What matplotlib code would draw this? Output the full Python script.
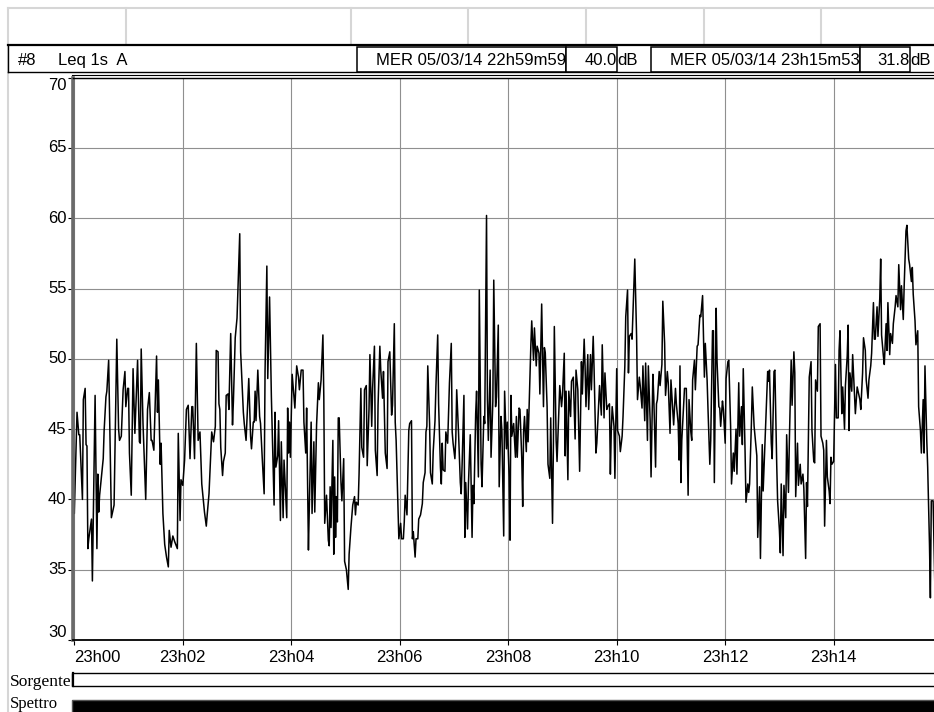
import matplotlib
matplotlib.use("Agg")
import matplotlib.pyplot as plt
from matplotlib.patches import Rectangle
from matplotlib.lines import Line2D

plt.rcParams['font.family'] = ['Liberation Sans', 'DejaVu Sans']

# seconds since 22h59m59 and Leq 1s (dB A)
secs = [
    0, 1, 4, 6, 7, 10, 11, 13, 14, 15, 16, 17, 20, 21, 24, 26, 27, 28, 29, 32,
    33, 34, 36, 37, 39, 42, 45, 48, 50, 51, 53, 55, 57, 58, 60, 61, 62, 64, 66, 68,
    69, 71, 73, 74, 75, 77, 80, 82, 84, 86, 87, 89, 92, 93, 94, 96, 97, 99, 101, 103,
    105, 106, 108, 110, 112, 115, 116, 118, 119, 121, 123, 124, 125, 127, 129, 131, 132, 134, 136,
    138, 140, 142, 145, 147, 148, 150, 153, 155, 157, 158, 160, 161, 162, 163, 165, 166, 168, 169, 171,
    172, 174, 176, 177, 179, 181, 184, 185, 188, 189, 191, 194, 196, 197, 199, 200, 201, 202, 204, 206,
    207, 209, 211, 212, 214, 215, 217, 219, 222, 223, 224, 226, 227, 229, 230, 232, 233, 236, 237, 238,
    239, 240, 242, 245, 247, 249, 250, 252, 254, 255, 257, 258, 260, 261, 263, 264, 266, 267, 269, 271,
    272, 274, 276, 277, 278, 280, 282, 283, 284, 285, 287, 288, 289, 290, 291, 292, 293, 294, 296, 297,
    299, 300, 302, 304, 305, 307, 309, 311, 312, 313, 315, 316, 318, 319, 321, 322, 324, 325, 327, 328,
    330, 331, 333, 334, 336, 337, 339, 340, 342, 343, 345, 347, 348, 350, 352, 353, 355, 356, 357, 359,
    360, 362, 363, 365, 366, 367, 369, 371, 372, 374, 375, 376, 378, 379, 381, 382, 384, 386, 387, 389,
    390, 391, 392, 394, 395, 397, 398, 400, 401, 403, 404, 406, 407,
    408, 409, 411, 412, 414, 416, 418, 419, 420, 422, 423, 424, 426, 428, 429, 430, 432, 433, 434, 436,
    437, 439, 441, 442, 443, 445, 446, 448, 449, 451, 452, 454, 455, 457, 458, 459, 461, 462, 464, 465,
    467, 468, 470, 471, 473, 474, 476, 477, 479, 480, 482, 483, 484, 485, 487, 489, 490, 491, 493, 494,
    496, 497, 498, 499, 501, 502, 503, 506, 507, 509, 510, 512, 513, 515, 516, 518, 520, 521, 522, 524,
    525, 527, 528, 530, 531, 532, 534, 535, 537, 538, 540, 541, 543, 544,
    545, 547, 548, 550, 551, 553, 555, 556, 558, 560, 562, 563, 565, 566, 567, 569, 570, 572, 573, 575,
    576, 578, 579, 581, 582, 584, 585, 587, 588, 590, 591, 593, 594, 595, 596, 598, 599, 601, 602, 604,
    605, 607, 608, 610, 611, 613, 614, 615, 617, 618, 620, 621, 623, 624, 626, 627, 629, 630, 632, 633,
    635, 636, 638, 639, 641, 642, 644, 645, 646, 648, 649, 651, 652, 654, 655, 657, 658, 660, 661, 663,
    664, 666, 667, 669, 670, 671, 672, 673, 675, 676,
    678, 680, 681, 683, 684, 685, 687, 688, 690, 691, 693, 694, 696, 698, 699, 701, 702, 704, 705, 707,
    708, 709, 711, 712, 714, 715, 716, 718, 719, 721, 722, 724, 725, 727, 728, 730, 731, 733, 734, 736,
    737, 739, 740, 741, 743, 744, 746, 747, 748, 750, 751, 753, 754, 756, 757, 759, 760, 762, 763, 765,
    766, 768, 769, 770, 772, 773, 775, 776, 778, 779, 781, 782, 783, 785, 786, 788, 789, 791, 792, 794,
    795, 797, 798, 799, 801, 802, 804, 805, 807, 808, 810, 811, 812,
    814, 816, 817, 819, 820, 821, 823, 824, 826, 827, 829, 830, 831, 833, 834, 836, 837, 838, 839, 841,
    843, 844, 846, 847, 848, 850, 851, 853, 854, 856, 857, 858, 859, 861, 862, 864, 865, 867, 868, 870,
    871, 873, 874, 876, 877, 879, 880, 882, 883, 885, 886, 887, 889, 890, 892, 893, 894, 896, 897, 899,
    900, 901, 903, 904, 906, 907, 909, 910, 912, 913, 915, 916, 918, 919, 921, 922, 924, 925, 927, 928,
    929, 931, 932, 934, 935, 937, 938, 940, 941, 942, 944, 945, 947, 948, 949, 951, 953, 954,
]
leq = [
    40.0, 39.0, 46.2, 44.6, 44.6, 40.0, 47.1, 47.9, 43.9, 43.8, 36.5, 37.2, 38.6, 34.2, 47.4, 36.5, 41.8, 39.1, 40.3, 42.2,
    42.9, 44.9, 47.3, 47.7, 49.9, 38.7, 39.6, 51.4, 45.0, 44.2, 44.5, 47.8, 49.1, 46.6, 47.9, 47.9, 43.3, 40.3, 49.3, 44.7,
    46.4, 49.9, 44.1, 44.0, 50.7, 45.4, 40.0, 46.4, 47.6, 44.2, 44.2, 43.5, 50.2, 46.2, 48.5, 42.5, 44.0, 39.0, 36.8, 35.9,
    35.2, 37.8, 36.6, 37.4, 37.0, 36.5, 44.7, 38.5, 41.4, 41.0, 42.8, 44.5, 46.4, 46.7, 42.9, 46.6, 46.6, 42.9, 51.1,
    44.2, 44.8, 41.1, 39.1, 38.1, 38.9, 40.4, 44.8, 44.1, 45.2, 50.6, 50.5, 46.8, 46.4, 43.7, 41.7, 42.7, 43.3, 47.4, 47.5,
    46.4, 51.8, 45.3, 47.0, 51.5, 52.9, 58.9, 50.5, 46.2, 45.4, 44.2, 48.6, 44.5, 43.6, 45.5, 45.5, 47.7, 45.6, 49.2, 45.9,
    45.4, 42.8, 40.4, 49.1, 56.6, 48.6, 54.4, 47.3, 39.6, 46.2, 42.3, 43.1, 45.6, 38.5, 44.1, 38.7, 42.8, 38.7, 46.5, 43.3,
    45.5, 43.0, 48.9, 46.5, 49.5, 48.7, 47.8, 49.2, 49.2, 45.5, 43.3, 46.5, 36.4, 39.6, 45.5, 39.0, 44.1, 39.1, 45.3, 48.3,
    47.1, 48.5, 51.7, 47.3, 38.3, 40.3, 37.1, 36.7, 40.9, 38.0, 44.2, 36.1, 41.6, 37.3, 40.2, 38.4, 45.8, 45.8, 41.2, 39.9,
    42.9, 35.6, 35.0, 33.6, 36.1, 38.0, 39.6, 40.2, 38.9, 39.8, 39.6, 41.8, 47.9, 43.7, 43.0, 47.8, 48.1, 42.4, 46.4, 50.3,
    45.2, 47.9, 50.9, 43.5, 41.7, 46.7, 50.9, 49.2, 47.2, 49.1, 43.3, 42.2, 49.8, 50.5, 46.0, 46.7, 52.5, 45.5, 44.2, 39.5,
    37.2, 38.3, 37.2, 37.2, 38.4, 40.3, 38.9, 44.9, 45.4, 45.6, 37.2, 37.7, 35.9, 37.2, 37.2, 38.6, 38.9, 39.7, 41.2, 41.9,
    44.8, 45.2, 49.5, 45.4, 41.9, 41.1, 43.4, 45.6, 48.0, 51.7, 46.8, 42.3, 41.1,
    44.0, 42.1, 42.0, 44.8, 44.0, 48.3, 51.1, 44.8, 44.0, 42.9, 44.3, 47.8, 44.8, 41.2, 40.4, 42.5, 47.4, 37.3, 41.2, 37.9,
    41.1, 44.6, 37.3, 41.0, 39.7, 46.1, 47.7, 41.6, 54.9, 42.5, 40.9, 45.9, 45.4, 60.2, 47.1, 44.2, 49.2, 43.0, 47.0, 55.6,
    46.6, 47.3, 52.4, 40.9, 45.9, 44.9, 37.4, 47.7, 43.6, 45.5, 41.6, 37.1, 47.4, 44.5, 45.4, 43.0, 45.9, 43.0, 46.5, 46.4,
    42.9, 39.5, 44.8, 45.9, 43.4, 46.4, 44.1, 50.9, 52.7, 49.9, 52.2, 49.5, 50.9, 50.4, 47.5, 53.9, 46.6, 50.8, 50.4, 46.6,
    42.5, 41.5, 45.8, 38.3, 44.0, 52.3, 44.2, 42.7, 46.4, 48.1, 46.6, 47.4, 50.4, 43.1,
    47.7, 41.4, 47.7, 45.9, 48.4, 48.7, 44.3, 49.2, 47.8, 42.0, 49.8, 47.5, 51.4, 49.5, 46.6, 50.3, 46.4, 50.3, 47.8, 51.6,
    49.2, 43.3, 44.0, 46.8, 48.1, 46.0, 51.0, 45.8, 49.0, 46.4, 46.6, 46.8, 41.8, 44.9, 46.6, 45.2, 41.5, 49.3, 44.9, 44.5,
    43.4, 44.5, 45.9, 49.5, 53.0, 54.9, 49.0, 51.6, 51.8, 51.4, 55.2, 57.1, 51.6, 47.1, 48.7, 48.1, 46.5, 49.5, 45.6, 49.7,
    44.2, 49.5, 45.6, 41.6, 48.9, 47.3, 42.3, 46.8, 47.1, 49.1, 48.1, 49.6, 54.1, 51.1, 47.4, 49.1, 48.3, 44.7, 48.5, 46.4,
    45.3, 47.9, 46.8, 45.4, 42.8, 49.5, 41.2, 44.2, 46.6, 47.9,
    47.9, 40.3, 47.1, 44.8, 44.2, 48.5, 49.9, 47.8, 50.9, 51.0, 53.1, 53.0, 54.5, 48.7, 51.1, 48.5, 46.4, 42.5, 44.2, 52.0,
    52.0, 41.2, 53.6, 49.8, 46.6, 46.5, 45.2, 47.0, 46.4, 44.0, 48.6, 49.8, 49.9, 45.2, 41.1, 43.3, 42.0, 45.0, 41.8, 48.3,
    44.5, 46.6, 43.9, 49.3, 43.4, 39.8, 41.1, 40.5, 41.1, 45.4, 48.0, 45.2, 44.5, 43.1, 37.3, 40.9, 35.8, 43.9, 40.6, 44.0,
    45.9, 49.1, 48.4, 49.2, 44.0, 42.9, 49.1, 49.2, 42.5, 39.9, 37.8, 36.2, 41.1, 36.0, 41.0, 38.7, 44.6, 40.5, 44.2, 49.9,
    46.7, 50.5, 49.0, 40.2, 44.0, 41.0, 42.5, 41.1, 41.8, 40.8, 35.8, 41.2, 39.5,
    48.7, 49.8, 44.9, 42.7, 42.6, 48.5, 47.7, 52.3, 52.5, 44.5, 44.0, 43.5, 38.1, 44.2, 41.6, 40.6, 39.7, 43.0, 42.5, 42.7,
    49.6, 45.8, 45.8, 50.6, 52.0, 46.1, 48.0, 45.0, 48.1, 50.2, 52.4, 44.9, 49.0, 47.7, 50.3, 47.5, 46.1, 48.0, 47.7, 47.1,
    46.4, 49.0, 51.5, 50.6, 48.5, 47.2, 48.5, 49.5, 50.4, 54.0, 51.4, 51.4, 53.7, 51.6, 54.3, 57.1, 51.7, 50.2, 49.6, 52.5,
    50.6, 54.0, 50.3, 51.8, 51.1, 52.5, 53.7, 54.5, 53.7, 56.7, 53.5, 55.2, 52.8, 55.2, 59.1, 59.5, 57.1, 56.7, 55.5, 56.5,
    54.6, 52.7, 51.0, 52.0, 46.6, 44.9, 43.3, 47.1, 43.3, 49.5, 44.2, 42.3, 36.8, 33.0, 39.9, 39.9, 33.5, 31.8,
]

tick_secs = [1, 121, 241, 361, 481, 601, 721, 841]
tick_labels = ['23h00', '23h02', '23h04', '23h06', '23h08', '23h10', '23h12', '23h14']
level_ticks = [30, 35, 40, 45, 50, 55, 60, 65, 70]

header_left = '#8'
header_mode = 'Leq 1s  A'
cursor1_time = 'MER 05/03/14 22h59m59'
cursor1_val = '40.0'
cursor2_time = 'MER 05/03/14 23h15m53'
cursor2_val = '31.8'

W, H = 934, 712
fig = plt.figure(figsize=(W / 100, H / 100), dpi=100)


def fx(px):
    return px / W


def fy(py):
    return 1 - py / H


def hline(y, x0, x1, color='black', lw=1.0):
    fig.add_artist(Line2D([fx(x0), fx(x1)], [fy(y), fy(y)], color=color, lw=lw,
                          transform=fig.transFigure))


def vline(x, y0, y1, color='black', lw=1.0):
    fig.add_artist(Line2D([fx(x), fx(x)], [fy(y0), fy(y1)], color=color, lw=lw,
                          transform=fig.transFigure))


def box(x0, y0, x1, y1, face='none', edge='black', lw=1.0):
    fig.add_artist(Rectangle((fx(x0), fy(y1)), fx(x1) - fx(x0), fy(y0) - fy(y1),
                             facecolor=face, edgecolor=edge, lw=lw,
                             transform=fig.transFigure))


# empty table row at the top
light = '#d6d6d6'
hline(8, 8, 934, light, 1.5)
for xc in [126, 351, 468, 586, 704, 821]:
    vline(xc, 8, 44, light, 1.5)
vline(8, 8, 712, light, 1.5)

# header strip
hline(44.5, 8, 934, 'black', 1.6)
vline(8, 44.5, 72, 'black', 1.0)
hline(72, 8, 934, 'black', 1.0)
for x0, x1 in [(357, 566), (566, 617), (651, 860), (860, 910)]:
    box(x0, 46.5, x1, 72, face='white', lw=1.1)
hline(75, 72, 934, 'black', 0.8)

fs = 12
hy = fy(65)
fig.text(fx(18), hy, header_left, fontsize=fs, va='baseline')
fig.text(fx(58), hy, header_mode, fontsize=fs, va='baseline')
fig.text(fx(566), hy, cursor1_time, fontsize=fs, va='baseline', ha='right')
fig.text(fx(617), hy, cursor1_val, fontsize=fs, va='baseline', ha='right')
fig.text(fx(617), hy, 'dB', fontsize=fs, va='baseline', ha='left')
fig.text(fx(860), hy, cursor2_time, fontsize=fs, va='baseline', ha='right')
fig.text(fx(910), hy, cursor2_val, fontsize=fs, va='baseline', ha='right')
fig.text(fx(910), hy, 'dB', fontsize=fs, va='baseline', ha='left')

# main plot
x_left, x_right = 73.4, 73.4 + 954 * 0.904
y_top, y_bot = 77.7, 640
ax = fig.add_axes([fx(x_left), fy(y_bot), fx(x_right) - fx(x_left), fy(y_top) - fy(y_bot)])
ax.set_xlim(0, 954)
ax.set_ylim(30, 70)
ax.plot(secs, leq, color='black', lw=1.1)

ax.set_xticks(tick_secs)
ax.set_yticks(level_ticks)
ax.grid(True, color='#8f8f8f', lw=0.8)
ax.tick_params(axis='both', direction='out', length=3.5, width=0.8,
               labelbottom=False, labelleft=False)
ax.spines['right'].set_visible(False)
ax.spines['top'].set_linewidth(1.0)
ax.spines['bottom'].set_linewidth(1.3)
ax.spines['left'].set_linewidth(2.6)
ax.spines['left'].set_color('#6a6a6a')

for i, (s, lab) in enumerate(zip(tick_secs, tick_labels)):
    ax.text(s, -0.018, lab, transform=ax.get_xaxis_transform(),
            ha='left' if i == 0 else 'center', va='top', fontsize=fs)

for v in level_ticks:
    va = 'center'
    if v == level_ticks[-1]:
        va = 'top'
    elif v == level_ticks[0]:
        va = 'bottom'
    ax.text(-0.008, v, str(v), transform=ax.get_yaxis_transform(),
            ha='right', va=va, fontsize=fs)

# bottom strips
serif = ['Liberation Serif', 'DejaVu Serif']
fig.text(fx(10), fy(685.5), 'Sorgente', family=serif, fontsize=12.5, va='baseline')
box(72, 673, 940, 686, face='white', lw=1.0)
vline(73, 673, 686, 'black', 1.6)
fig.text(fx(10), fy(708), 'Spettro', family=serif, fontsize=12, va='baseline')
box(72, 700, 940, 716, face='black', edge='#555555', lw=1.0)

fig.savefig('out.png', dpi=100)
